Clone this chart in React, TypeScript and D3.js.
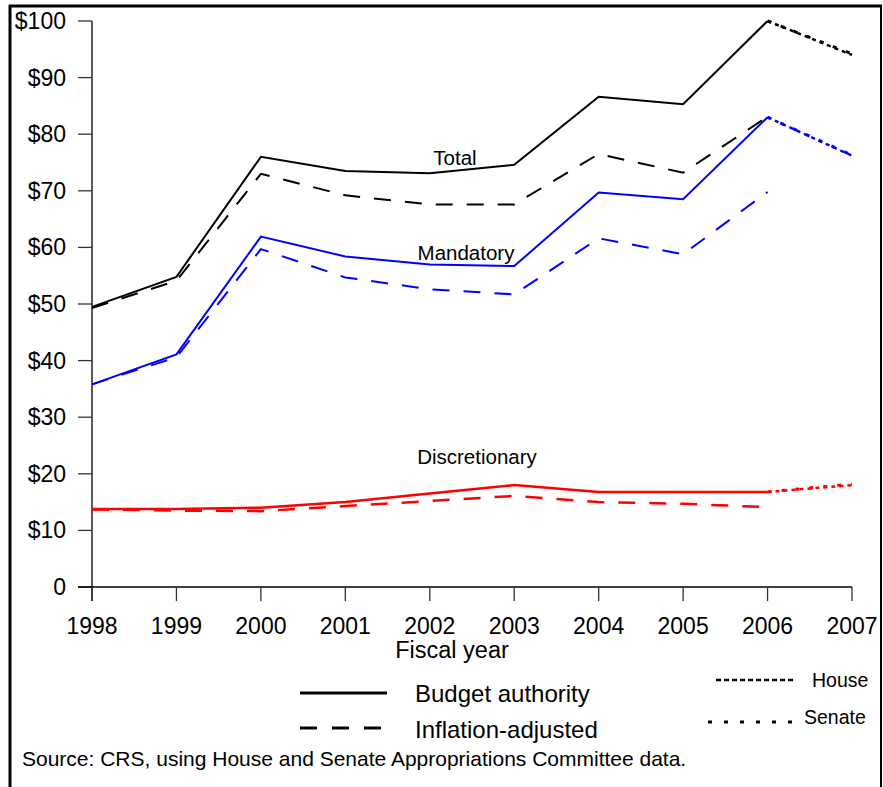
import React from "react";
import * as d3 from "d3";

const years = [1998, 1999, 2000, 2001, 2002, 2003, 2004, 2005, 2006, 2007];
const enactedYears = [1998, 1999, 2000, 2001, 2002, 2003, 2004, 2005, 2006];
const yTicks = [0, 10, 20, 30, 40, 50, 60, 70, 80, 90, 100];

const totalBA = [49.5, 54.8, 76.0, 73.5, 73.1, 74.6, 86.6, 85.3, 100.0];
const totalInfl = [49.3, 54.1, 73.0, 69.2, 67.6, 67.6, 76.5, 73.2, 83.1];
const mandBA = [35.8, 41.1, 61.9, 58.4, 57.0, 56.7, 69.7, 68.5, 83.0];
const mandInfl = [35.8, 40.6, 59.7, 54.7, 52.6, 51.7, 61.6, 58.8, 69.8];
const discBA = [13.8, 13.8, 14.0, 15.0, 16.5, 18.0, 16.8, 16.8, 16.8];
const discInfl = [13.7, 13.5, 13.4, 14.3, 15.2, 16.1, 15.0, 14.7, 14.1];

// FY2007 proposals: [total, mandatory, discretionary]
const house2007 = [94.0, 76.2, 18.0];
const senate2007 = [94.2, 76.3, 18.2];

const FONT = "'Liberation Sans', Arial, sans-serif";

export default function App() {
  const x = d3.scaleLinear().domain([1998, 2007]).range([92, 852]);
  const y = d3.scaleLinear().domain([0, 100]).range([587, 21]);
  const line = d3
    .line<[number, number]>()
    .x((d) => x(d[0]))
    .y((d) => y(d[1]));

  const pts = (vals: number[]) => vals.map((v, i) => [enactedYears[i], v] as [number, number]);

  const series = [
    { vals: totalBA, color: "#000", dash: undefined, w: 2 },
    { vals: totalInfl, color: "#000", dash: "17,14", w: 2 },
    { vals: mandBA, color: "#0000ff", dash: undefined, w: 2 },
    { vals: mandInfl, color: "#0000ff", dash: "17,14", w: 2 },
    { vals: discBA, color: "#ff0000", dash: undefined, w: 2.5 },
    { vals: discInfl, color: "#ff0000", dash: "17,14", w: 2.5 },
  ];
  const lastBA = [totalBA[8], mandBA[8], discBA[8]];
  const colors = ["#000", "#0000ff", "#ff0000"];

  return (
    <div style={{ position: "fixed", left: 0, top: 0, width: 883, height: 787, background: "#fff" }}>
      <svg width={883} height={787} style={{ display: "block" }} fontFamily={FONT}>
        <rect x={0} y={0} width={883} height={787} fill="#fff" />
        {/* frame */}
        <line x1={9} x2={882} y1={6} y2={6} stroke="#000" strokeWidth={3} />
        <line x1={10} x2={10} y1={5} y2={787} stroke="#000" strokeWidth={3} />
        <line x1={881} x2={881} y1={5} y2={787} stroke="#000" strokeWidth={2} />

        {/* y axis */}
        <line x1={x(1998)} x2={x(1998)} y1={y(100)} y2={y(0) + 14} stroke="#000" strokeWidth={1.3} />
        {yTicks.map((t) => (
          <g key={"y" + t}>
            <line x1={x(1998) - 14} x2={x(1998)} y1={y(t)} y2={y(t)} stroke="#333" strokeWidth={1.3} />
            <text x={66} y={y(t) + 8} textAnchor="end" fontSize={23} fill="#000">
              {t === 0 ? "0" : "$" + t}
            </text>
          </g>
        ))}
        {/* x axis */}
        <line x1={x(1998) - 14} x2={x(2007)} y1={y(0)} y2={y(0)} stroke="#000" strokeWidth={1.3} />
        {years.map((yr) => (
          <g key={"x" + yr}>
            <line x1={x(yr)} x2={x(yr)} y1={y(0)} y2={y(0) + 14} stroke="#333" strokeWidth={1.3} />
            <text x={x(yr)} y={634} textAnchor="middle" fontSize={23} fill="#000">
              {yr}
            </text>
          </g>
        ))}
        <text x={452} y={658} textAnchor="middle" fontSize={23.5} fill="#000">
          Fiscal year
        </text>

        {/* data lines */}
        {series.map((s, i) => (
          <path
            key={"s" + i}
            d={line(pts(s.vals)) || ""}
            fill="none"
            stroke={s.color}
            strokeWidth={s.w}
            strokeDasharray={s.dash}
            strokeLinejoin="miter"
          />
        ))}
        {/* 2007 House / Senate */}
        {house2007.map((v, i) => (
          <path
            key={"h" + i}
            d={line([[2006, lastBA[i]], [2007, v]]) || ""}
            fill="none"
            stroke={colors[i]}
            strokeWidth={2.5}
            strokeDasharray="4,4"
          />
        ))}
        {senate2007.map((v, i) => (
          <path
            key={"sn" + i}
            d={line([[2006, lastBA[i]], [2007, v]]) || ""}
            fill="none"
            stroke={colors[i]}
            strokeWidth={3}
            strokeDasharray="4,10"
          />
        ))}

        {/* series labels */}
        <text x={455} y={165} textAnchor="middle" fontSize={20.5} fill="#000">Total</text>
        <text x={466} y={260} textAnchor="middle" fontSize={20.5} fill="#000">Mandatory</text>
        <text x={477} y={464} textAnchor="middle" fontSize={20.5} fill="#000">Discretionary</text>

        {/* legend */}
        <line x1={300} x2={387} y1={693} y2={693} stroke="#000" strokeWidth={3} />
        <text x={415} y={702} fontSize={24} fill="#000">Budget authority</text>
        <line x1={300} x2={385} y1={728} y2={728} stroke="#000" strokeWidth={3} strokeDasharray="17,15" />
        <text x={415} y={738} fontSize={24} fill="#000">Inflation-adjusted</text>

        <line x1={716} x2={793} y1={680} y2={680} stroke="#000" strokeWidth={2.5} strokeDasharray="5,3" />
        <text x={812} y={687} fontSize={19.5} fill="#000">House</text>
        <line x1={708} x2={792} y1={722} y2={722} stroke="#000" strokeWidth={3} strokeDasharray="4,12" />
        <text x={804} y={724} fontSize={19.5} fill="#000">Senate</text>

        <text x={22} y={766} fontSize={21} fill="#000">
          Source: CRS, using House and Senate Appropriations Committee data.
        </text>
      </svg>
    </div>
  );
}
